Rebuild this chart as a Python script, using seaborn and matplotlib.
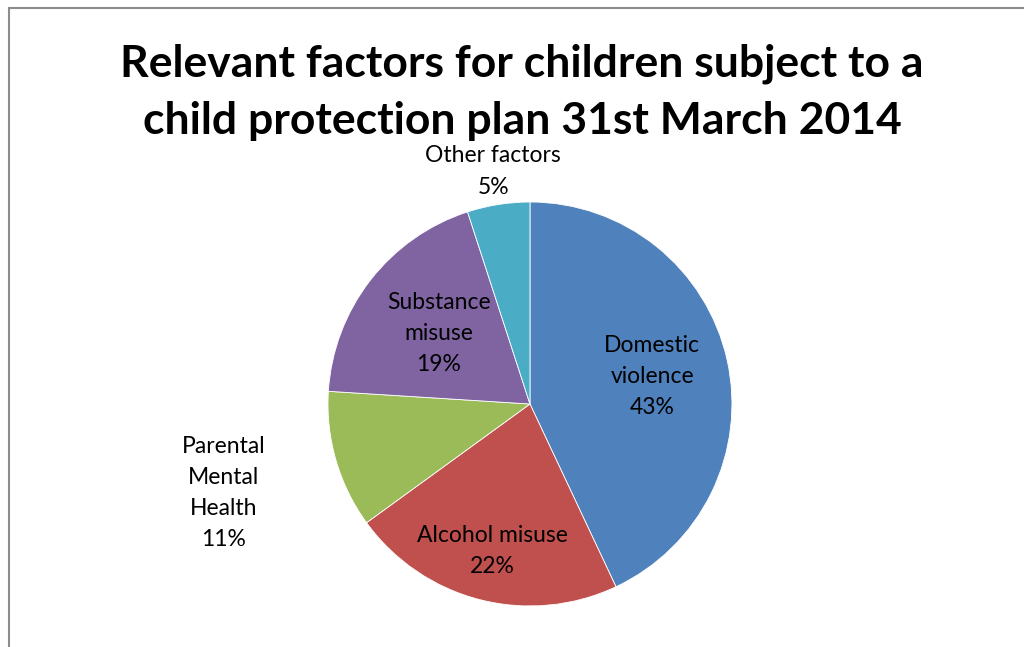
import numpy as np
import matplotlib
matplotlib.use("Agg")
import matplotlib.pyplot as plt
import seaborn as sns

# data
factors = ["Domestic\nviolence", "Alcohol misuse", "Parental\nMental\nHealth",
           "Substance\nmisuse", "Other factors"]
shares = [43, 22, 11, 19, 5]
title = "Relevant factors for children subject to a\nchild protection plan 31st March 2014"

colors = ["#4F81BD", "#C0504D", "#9BBB59", "#8064A2", "#4BACC6"]
label_radius = [0.62, 0.75, 1.58, 0.57, 1.165]

sns.set_style("white")
plt.rcParams["font.family"] = ["Lato", "DejaVu Sans"]

fig = plt.figure(figsize=(10.24, 6.47), dpi=100)
ax = fig.add_axes([0.3203, 0.0634, 0.3945, 0.6244])

wedges, _ = ax.pie(shares, colors=colors, startangle=90, counterclock=False,
                   radius=1, wedgeprops=dict(linewidth=0.6, edgecolor="white"))
ax.set_xlim(-1, 1)
ax.set_ylim(-1, 1)
ax.axis("off")

for w, name, val, r in zip(wedges, factors, shares, label_radius):
    mid = np.deg2rad((w.theta1 + w.theta2) / 2)
    ax.text(r * np.cos(mid), r * np.sin(mid), f"{name}\n{val}%",
            ha="center", va="center", fontsize=16.5, linespacing=1.6,
            color="black")

fig.text(0.51, 0.858, title, ha="center", va="center", fontsize=32,
         fontweight="bold", linespacing=1.52, color="black")

# chart border (partially cropped in the reference)
border = plt.Rectangle((9 / 1024, -0.2), 1.2, 1.2 - 8 / 647,
                       transform=fig.transFigure, fill=False,
                       edgecolor="#8c8c8c", linewidth=1.5, clip_on=False)
fig.patches.append(border)

fig.savefig("out.png", dpi=100)
